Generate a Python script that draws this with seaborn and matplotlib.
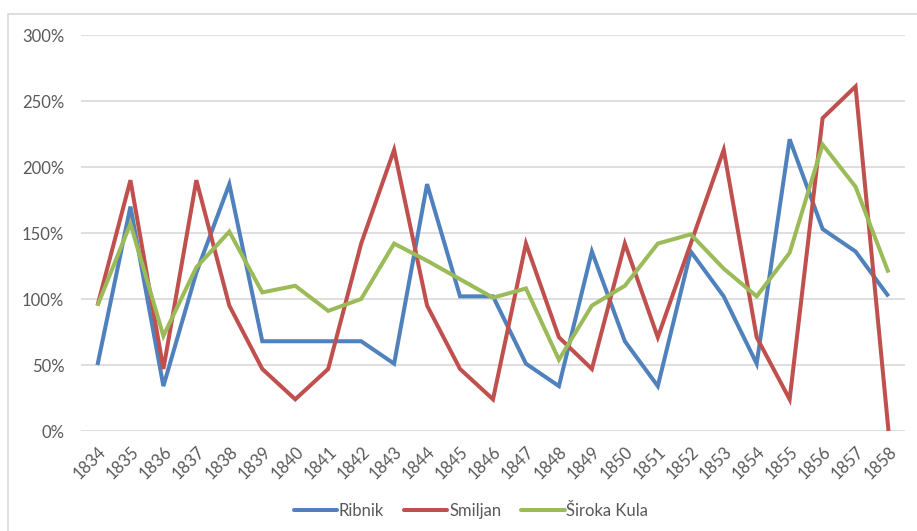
import matplotlib
matplotlib.use("Agg")
import matplotlib.pyplot as plt
import matplotlib.patches as mpatches
from matplotlib.lines import Line2D
from matplotlib.ticker import FuncFormatter, MultipleLocator
import seaborn as sns
import pandas as pd

years = [str(y) for y in range(1834, 1859)]
ribnik = [50, 170, 34, 120, 187, 68, 68, 68, 68, 51, 187, 102, 102, 51, 34, 136,
          68, 34, 136, 102, 51, 221, 153, 136, 102]
smiljan = [95, 190, 47, 190, 95, 47, 24, 47, 142, 213, 95, 47, 24, 142, 71, 47,
           142, 71, 142, 213, 71, 24, 237, 261, 0]
siroka_kula = [95, 157, 72, 124, 151, 105, 110, 91, 100, 142, 129, 115, 101, 108, 54, 95,
               110, 142, 149, 123, 102, 135, 217, 185, 120]
series_names = ["Ribnik", "Smiljan", "Široka Kula"]
colors = ["#4F81BD", "#C0504D", "#9BBB59"]

rows = []
for name, vals in zip(series_names, [ribnik, smiljan, siroka_kula]):
    for i, v in enumerate(vals):
        rows.append({"pos": i, "year": years[i], "value": v, "series": name})
df = pd.DataFrame(rows)

sns.set_theme(style="white")
plt.rcParams["font.family"] = ["Lato", "DejaVu Sans"]

W, H = 917, 531
fig = plt.figure(figsize=(W / 100, H / 100), dpi=100)
ax = fig.add_axes([81 / W, (H - 431) / H, (905 - 81) / W, (431 - 35) / H])

sns.lineplot(data=df, x="pos", y="value", hue="series", palette=colors,
             hue_order=series_names, linewidth=2.9, ax=ax, legend=False,
             sort=False)
for ln in ax.get_lines():
    ln.set_clip_on(False)
    ln.set_solid_joinstyle("miter")
    ln.set_solid_capstyle("butt")

ax.set_xlim(-0.5, len(years) - 0.5)
ax.set_ylim(0, 300)
ax.yaxis.set_major_locator(MultipleLocator(50))
ax.yaxis.set_major_formatter(FuncFormatter(lambda v, p: f"{v:.0f}%"))
ax.set_xticks(range(len(years)))
ax.set_xticklabels(years, rotation=45, ha="right", va="top", rotation_mode="anchor")
ax.grid(axis="y", color="#D9D9D9", linewidth=1.2)
ax.set_axisbelow(True)
for s in ax.spines.values():
    s.set_visible(False)
ax.tick_params(axis="both", length=0, labelsize=12, labelcolor="#595959")
ax.tick_params(axis="y", pad=12)
ax.tick_params(axis="x", pad=9)
ax.set_xlabel("")
ax.set_ylabel("")

handles = [Line2D([0], [0], color=c, linewidth=2.9) for c in colors]
fig.legend(handles, series_names, loc="center",
           bbox_to_anchor=(471 / W, (H - 511) / H),
           ncol=3, frameon=False, fontsize=12, handlelength=2.6, handletextpad=0.1,
           columnspacing=1.2, labelcolor="#595959")

# outer chart border (partially outside the image)
fig.patches.append(mpatches.Rectangle((8 / W, -0.1), 1.2, (H - 14) / H + 0.1,
                                      transform=fig.transFigure, fill=False,
                                      edgecolor="#D9D9D9", linewidth=1.2))

fig.savefig("out.png", dpi=100, facecolor="white")
